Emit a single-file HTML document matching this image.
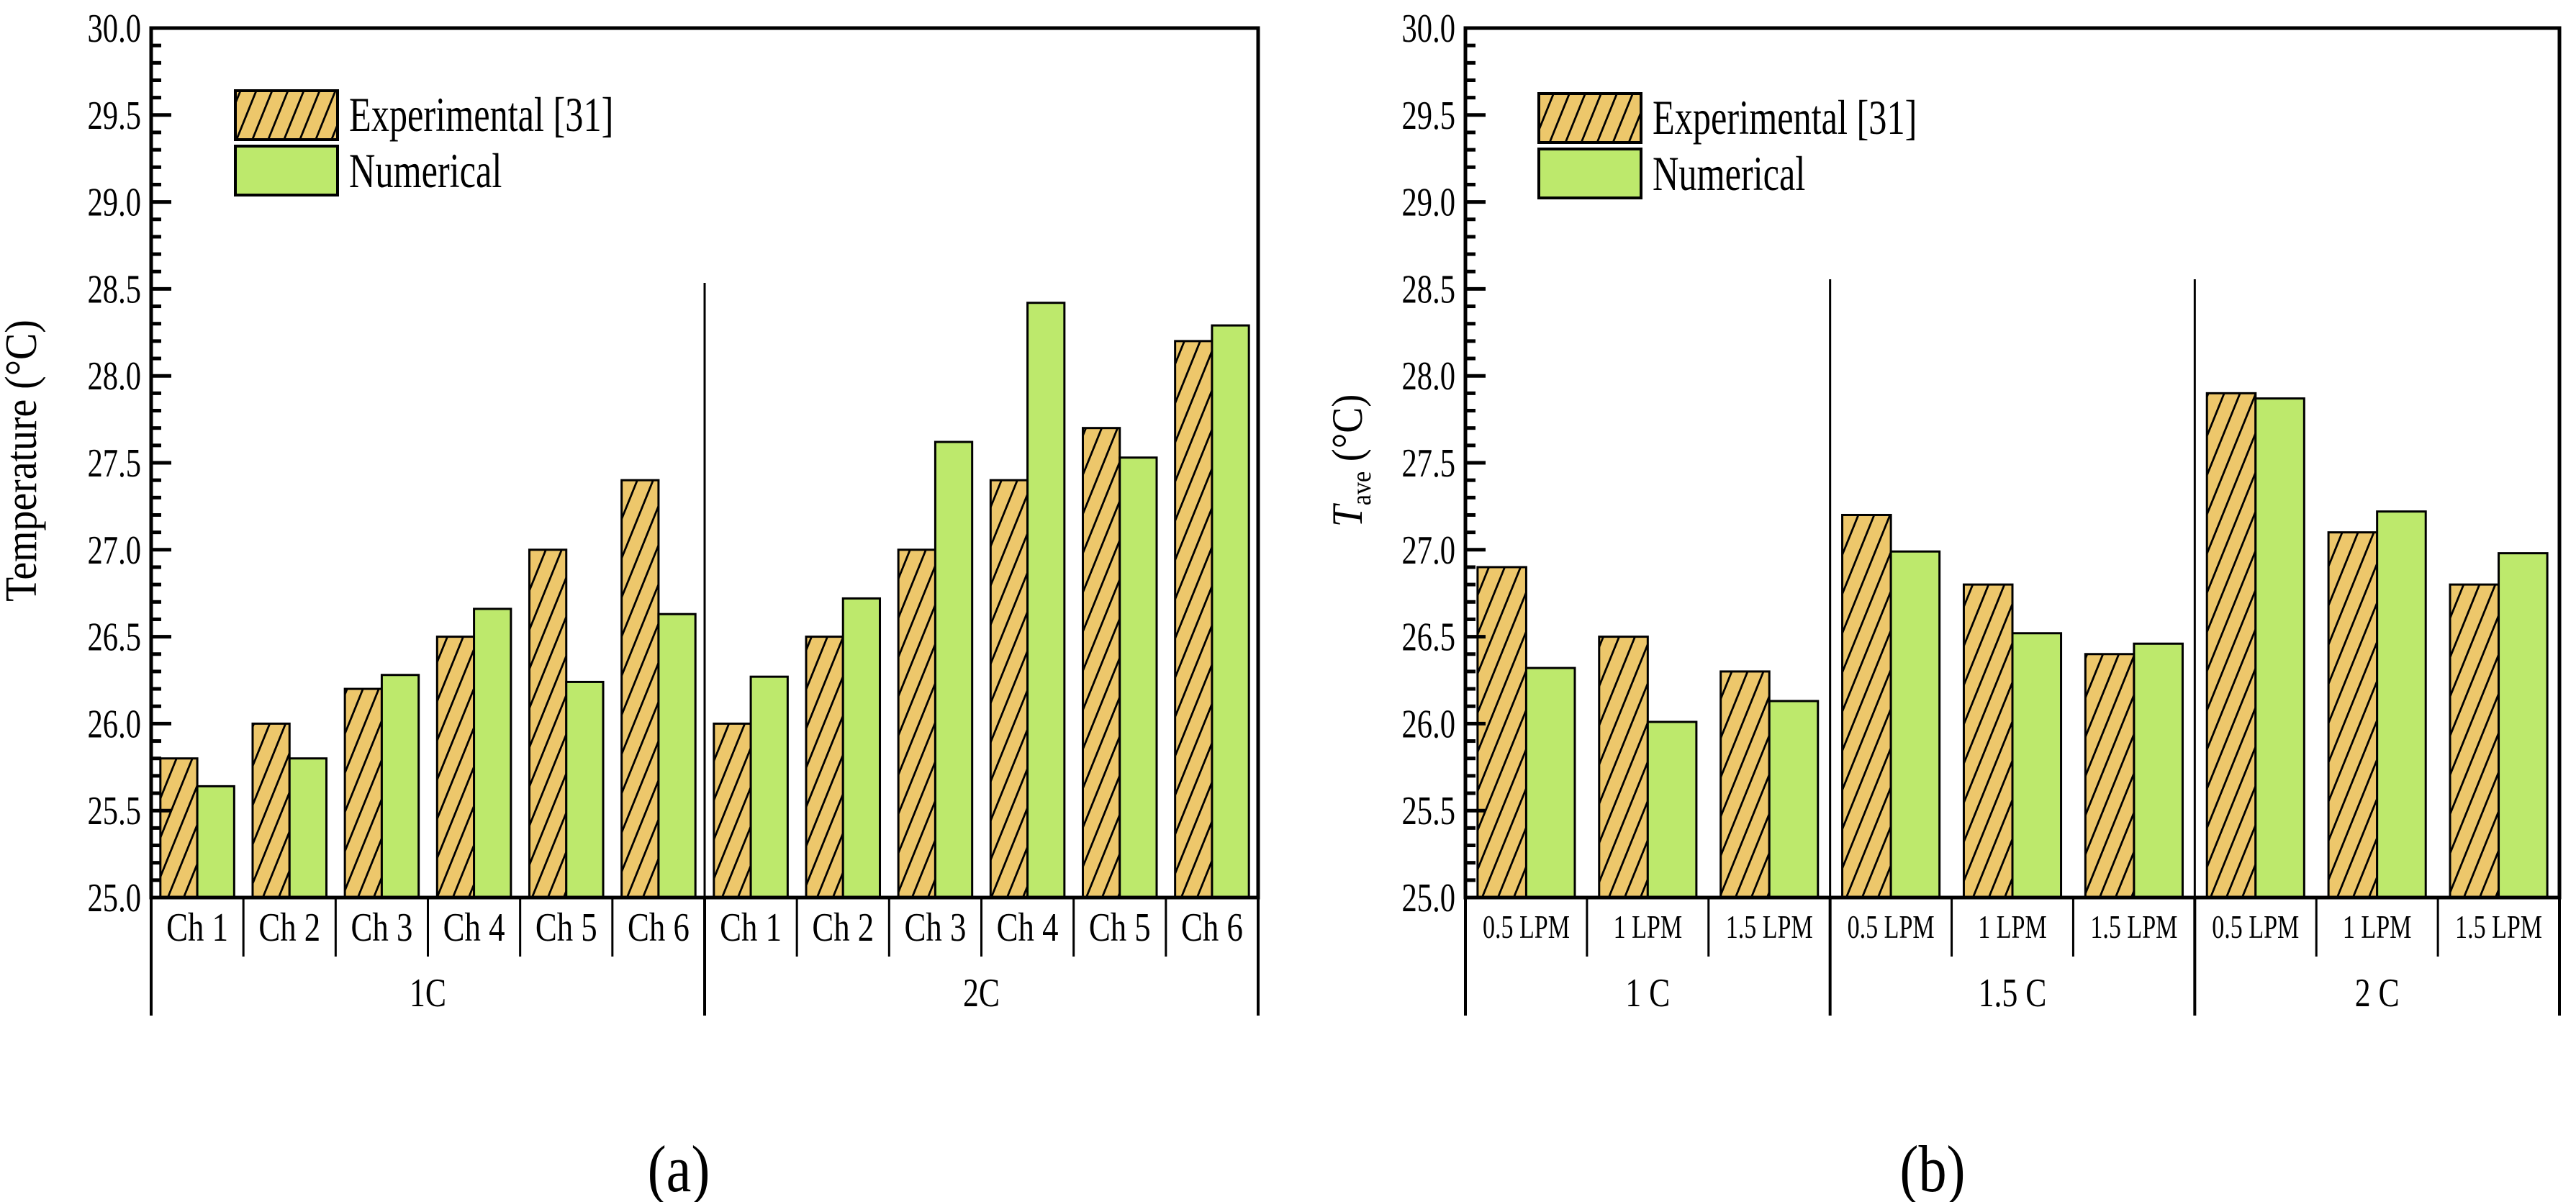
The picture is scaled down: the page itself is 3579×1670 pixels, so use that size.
<!DOCTYPE html>
<html><head><meta charset="utf-8"><style>
html,body{margin:0;padding:0;background:#fff;}
svg{display:block;font-family:"Liberation Serif",serif;}
</style></head><body>
<svg id="fig" width="3579" height="1670" viewBox="0 0 3579 1670" xmlns="http://www.w3.org/2000/svg">
<defs>
<pattern id="hatch" patternUnits="userSpaceOnUse" width="22" height="44" patternTransform="skewX(-22)">
<rect width="22" height="44" fill="#edc76b"/>
<line x1="11" y1="0" x2="11" y2="44" stroke="#000" stroke-width="3"/>
</pattern>
</defs>
<g id="ga"></g>
<g id="gb"></g>
</svg>
<script>
const catsA = ["Ch 1","Ch 2","Ch 3","Ch 4","Ch 5","Ch 6","Ch 1","Ch 2","Ch 3","Ch 4","Ch 5","Ch 6"];
const groupsA = ["1C","2C"];
const expA = [25.8,26.0,26.2,26.5,27.0,27.4,26.0,26.5,27.0,27.4,27.7,28.2];
const numA = [25.64,25.8,26.28,26.66,26.24,26.63,26.27,26.72,27.62,28.42,27.53,28.29];
const catsB = ["0.5 LPM","1 LPM","1.5 LPM","0.5 LPM","1 LPM","1.5 LPM","0.5 LPM","1 LPM","1.5 LPM"];
const groupsB = ["1 C","1.5 C","2 C"];
const expB = [26.9,26.5,26.3,27.2,26.8,26.4,27.9,27.1,26.8];
const numB = [26.32,26.01,26.13,26.99,26.52,26.46,27.87,27.22,26.98];
const yTicks = ["25.0","25.5","26.0","26.5","27.0","27.5","28.0","28.5","29.0","29.5","30.0"];
const legendLabels = ["Experimental [31]","Numerical"];

const NS="http://www.w3.org/2000/svg";
function mk(parent,tag,attrs,text){const e=document.createElementNS(NS,tag);for(const k in attrs)e.setAttribute(k,attrs[k]);if(text!==undefined)e.textContent=text;parent.appendChild(e);return e;}
function txt(parent,x,y,size,sx,anchor,str,rot){
  const tr='translate('+x+','+y+')'+(rot?' rotate('+rot+')':'')+' scale('+sx+',1)';
  return mk(parent,'text',{x:0,y:0,'text-anchor':anchor,'font-size':size,transform:tr},str);
}

function drawChart(g,opt){
  const L=opt.left,R=opt.right,T=39,B=1247;
  const ymin=25,ymax=30;
  const y=v=>B-(v-ymin)/(ymax-ymin)*(B-T);
  const n=opt.cats.length, cw=(R-L)/n;
  const x=i=>L+i*cw;
  for(let i=0;i<n;i++){
    const bw=cw*0.4, x0=x(i)+cw*0.1;
    const r1=mk(g,'rect',{x:x0,y:y(opt.exp[i]),width:bw,height:B-y(opt.exp[i]),fill:'url(#hatch)',stroke:'#000','stroke-width':3});
    
    
    const r2=mk(g,'rect',{x:x0+bw,y:y(opt.num[i]),width:bw,height:B-y(opt.num[i]),fill:'#bde96c',stroke:'#000','stroke-width':3});
    
    
  }
  for(let k=0;k<=50;k++){
    const v=ymin+k*0.1, yy=y(v), major=k%5===0;
    const t=mk(g,'line',{x1:L,x2:L+(major?28:14),y1:yy,y2:yy,stroke:'#000','stroke-width':5});
    
    
  }
  yTicks.forEach((s)=>{
    const v=parseFloat(s);
    const tl=txt(g,L-14,y(v)+19,56,0.76,'end',s);
    
    
  });
  const fr=mk(g,'rect',{x:L,y:T,width:R-L,height:B-T,fill:'none',stroke:'#000','stroke-width':5});
  
  
  for(let i=0;i<=n;i++){
    const isG=(i%opt.per===0);
    const ln=mk(g,'line',{x1:x(i),x2:x(i),y1:B,y2:isG?1411:1329,stroke:'#000','stroke-width':isG?4:3});
    
    
    if(isG && i>0 && i<n){
      const d=mk(g,'line',{x1:x(i),x2:x(i),y1:opt.divTop,y2:B,stroke:'#000','stroke-width':3});
      
      
    }
  }
  for(let i=0;i<n;i++){
    const tl=txt(g,x(i)+cw/2,opt.catY,opt.catFont,opt.catSx,'middle',opt.cats[i]);
    
    
  }
  opt.groups.forEach((s,j)=>{
    const cx=x(j*opt.per)+cw*opt.per/2;
    const tl=txt(g,cx,1398,56,0.78,'middle',s);
    
    
  });
  const lx=opt.legX, ly=opt.legY;
  const b1=mk(g,'rect',{x:lx,y:ly,width:142,height:68,fill:'url(#hatch)',stroke:'#000','stroke-width':4});
  
  
  const b2=mk(g,'rect',{x:lx,y:ly+77,width:142,height:68,fill:'#bde96c',stroke:'#000','stroke-width':4});
  
  
  const t1=txt(g,lx+158,ly+56,68,0.74,'start',legendLabels[0]);
  
  
  const t2=txt(g,lx+158,ly+134,68,0.74,'start',legendLabels[1]);
  
  
}

const ga=document.getElementById('ga'), gb=document.getElementById('gb');
drawChart(ga,{left:210,right:1748,cats:catsA,groups:groupsA,exp:expA,num:numA,per:6,divTop:393,catFont:56,catSx:0.8,catY:1307,legX:327,legY:126});
drawChart(gb,{left:2036,right:3556,cats:catsB,groups:groupsB,exp:expB,num:numB,per:3,divTop:388,catFont:46,catSx:0.74,catY:1303,legX:2138,legY:130});

const ya=txt(ga,50,640,62,0.9,'middle',"Temperature (°C)",-90);


const yb=mk(gb,'text',{x:0,y:0,'text-anchor':'middle','font-size':60,transform:'translate(1892,640) rotate(-90) scale(0.9,1)'});


mk(yb,'tspan',{'font-style':'italic'},"T");
mk(yb,'tspan',{'font-size':38,dy:12},"ave");
mk(yb,'tspan',{dy:-12}," (°C)");
const pa=txt(ga,943,1655,92,0.85,'middle',"(a)");


const pb=txt(gb,2685,1655,92,0.85,'middle',"(b)");


</script>
</body></html>
